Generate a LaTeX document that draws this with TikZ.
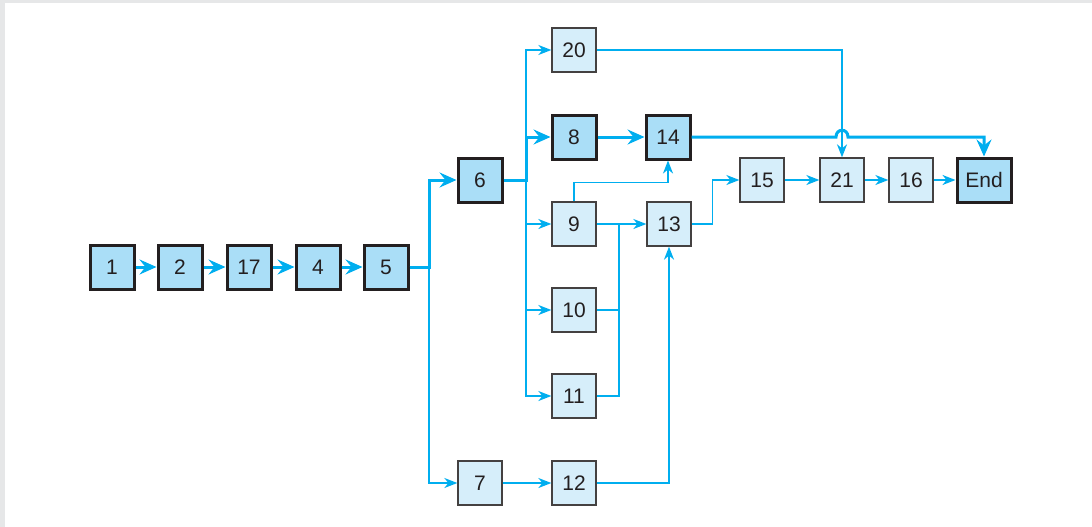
\documentclass[tikz,border=0pt]{standalone}
\usepackage{fontspec}
\setmainfont{Liberation Sans}
\usetikzlibrary{arrows.meta}
\definecolor{lnk}{HTML}{00AEEF}
\definecolor{boldfill}{HTML}{AADEF7}
\definecolor{litefill}{HTML}{D6EEFA}
\definecolor{edgec}{HTML}{231F20}
\definecolor{framec}{HTML}{E6E7E8}
\begin{document}
\begin{tikzpicture}[x=1pt,y=-1pt,
  box/.style={minimum width=44pt,minimum height=44pt,inner sep=0pt,
    font=\fontsize{21}{24}\selectfont,text=edgec},
  crit/.style={box,fill=boldfill,draw=edgec,line width=3pt},
  task/.style={box,fill=litefill,draw=edgec!85,line width=1.3pt},
  critlink/.style={draw=lnk,line width=3pt,-{Stealth[length=17pt,width=15pt,inset=6pt]}},
  tasklink/.style={draw=lnk,line width=1.6pt,-{Stealth[length=13pt,width=10pt,inset=4pt]}},
  taskline/.style={draw=lnk,line width=1.6pt}]
\path[use as bounding box] (0,0) rectangle (1092,527);
\fill[framec] (0,0) rectangle (1092,3.5);
\fill[framec] (0,0) rectangle (4.5,527);
% nodes
\node[crit] (n1) at (112,267) {1};
\node[crit] (n2) at (180,267) {2};
\node[crit] (n17) at (249,267) {17};
\node[crit] (n4) at (318,267) {4};
\node[crit] (n5) at (386,267) {5};
\node[crit] (n6) at (480,180) {6};
\node[task] (n20) at (574,50) {20};
\node[crit] (n8) at (574,137) {8};
\node[crit] (n14) at (668,137) {14};
\node[task] (n9) at (574,224) {9};
\node[task] (n13) at (669,224) {13};
\node[task] (n10) at (574,310) {10};
\node[task] (n11) at (574,396) {11};
\node[task] (n7) at (480,483) {7};
\node[task] (n12) at (574,483) {12};
\node[task] (n15) at (762,180) {15};
\node[task] (n21) at (842,180) {21};
\node[task] (n16) at (911,180) {16};
\node[crit,minimum width=54pt] (nEnd) at (984,180) {End};
% junctions
\coordinate (j5) at (429,267);
\coordinate (j6) at (526,180);
\coordinate (m) at (619,224);
% thin connectors
\draw[tasklink] (n5.east) -- (j5) |- (n7.west);
\draw[tasklink] (n7.east) -- (n12.west);
\draw[tasklink] (j6) |- (n20.west);
\draw[tasklink] (n6.east) -- (j6) |- (n9.west);
\draw[tasklink] (j6) |- (n10.west);
\draw[tasklink] (j6) |- (n11.west);
\draw[taskline] (n10.east) -| (m);
\draw[taskline] (n11.east) -| (m);
\draw[tasklink] (n9.east) -- (n13.west);
\draw[tasklink] (n9.north) -- ++(0,-19) -| (n14.south);
\draw[tasklink] (n12.east) -| (n13.south);
\draw[tasklink] (n13.east) -- ++(21,0) |- (n15.west);
\draw[tasklink] (n20.east) -| (n21.north);
\draw[tasklink] (n15.east) -- (n21.west);
\draw[tasklink] (n21.east) -- (n16.west);
\draw[tasklink] (n16.east) -- (nEnd.west);
% critical connectors
\draw[critlink] (n1.east) -- (n2.west);
\draw[critlink] (n2.east) -- (n17.west);
\draw[critlink] (n17.east) -- (n4.west);
\draw[critlink] (n4.east) -- (n5.west);
\draw[critlink] (n5.east) -- (j5) |- (n6.west);
\draw[critlink] (n6.east) -- (j6) |- (n8.west);
\draw[critlink] (n8.east) -- (n14.west);
\draw[critlink] (n14.east) -- (836,137) .. controls (836,128) and (848,128) .. (848,137) -| (nEnd.north);
\end{tikzpicture}
\end{document}
